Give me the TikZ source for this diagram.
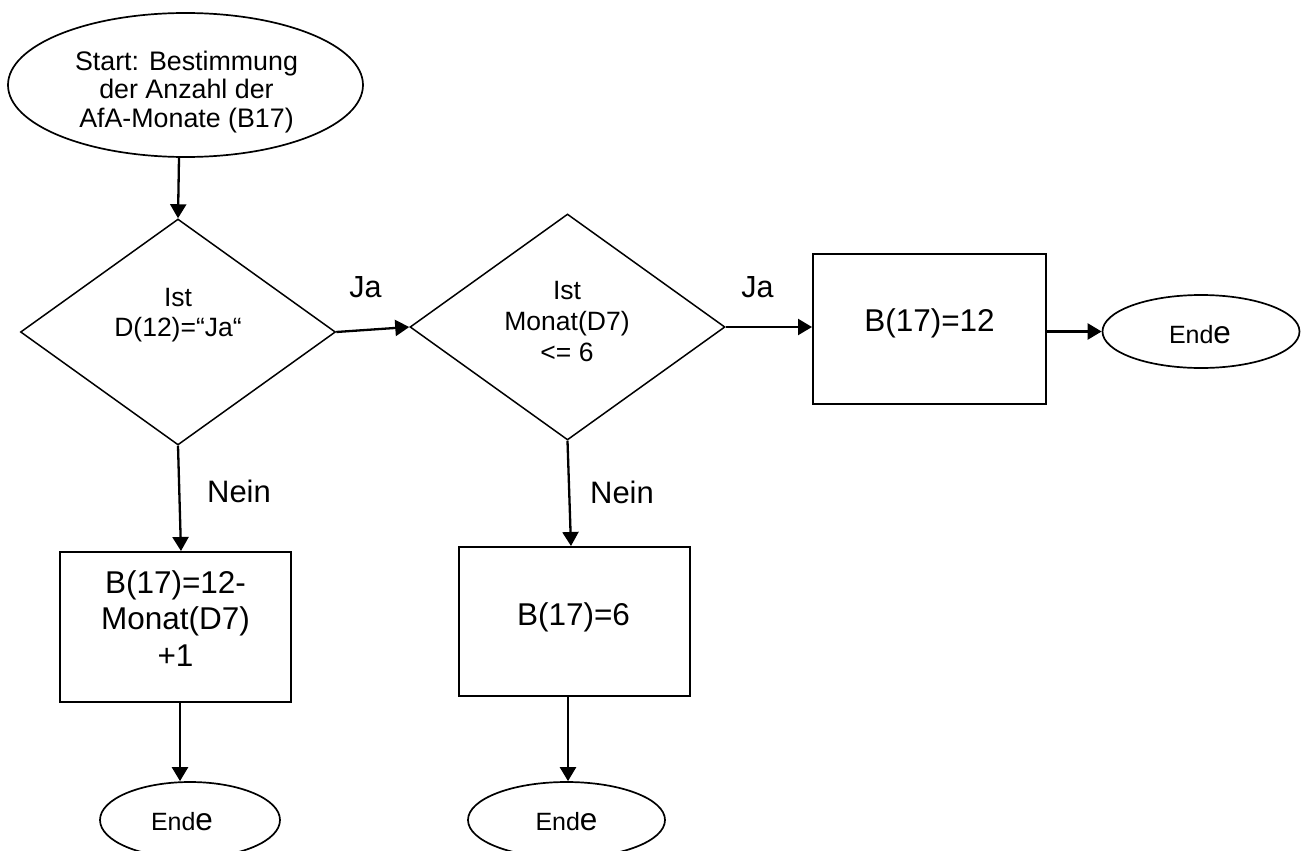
\documentclass[tikz,border=0pt]{standalone}
\usepackage{fontspec}
\setmainfont{Liberation Sans}
\usetikzlibrary{shapes.geometric,arrows.meta}
\newcommand\schlusstext{{\fontsize{25}{25}\selectfont End\fontsize{31.5}{31.5}\selectfont e}}
\tikzset{
  arr/.style={line width=2.3pt, -{Triangle[length=14pt,width=16pt]}},
  term/.style={ellipse, draw, line width=1.7pt, inner sep=0pt},
  decision/.style={diamond, draw, line width=1.5pt, inner sep=0pt},
  procbox/.style={rectangle, draw, line width=2pt, inner sep=0pt},
  txt/.style={inner sep=0pt, align=center},
  lbl/.style={inner sep=0pt, anchor=base},
  bigfont/.style={font=\fontsize{31.5}{36.7}\selectfont},
}
\begin{document}
\begin{tikzpicture}[x=1pt,y=-1pt]
\useasboundingbox (0,0) rectangle (1309,851);
\clip (0,0) rectangle (1309,851);

% shapes
\node[term, minimum width=355pt, minimum height=144pt] (start) at (185.5,85) {};
\node[decision, minimum width=315pt, minimum height=226pt] (d1) at (178,332) {};
\node[decision, minimum width=315pt, minimum height=226pt] (d2) at (567.5,327) {};
\node[procbox, minimum width=233pt, minimum height=150pt] (b3) at (929.5,329) {};
\node[term, minimum width=197pt, minimum height=73pt] (e3) at (1201,331.5) {};
\node[procbox, minimum width=231pt, minimum height=150pt] (b1) at (175.5,627) {};
\node[procbox, minimum width=231pt, minimum height=149pt] (b2) at (574.5,621.5) {};
\node[term, minimum width=180pt, minimum height=76pt] (e1) at (190,820) {};
\node[term, minimum width=197pt, minimum height=76pt] (e2) at (566.5,820) {};

% texts
\node[txt, font=\fontsize{26.8}{28.8}\selectfont] (starttext) at (186.5,92) {Start: Bestimmung\\der Anzahl der\\AfA-Monate (B17)};
\node[txt, font=\fontsize{26.5}{30.5}\selectfont] (d1text) at (178,315.3) {Ist\\D(12)=“Ja“};
\node[txt, font=\fontsize{26.5}{30.8}\selectfont] (d2text) at (567,321.5) {Ist\\Monat(D7)\\<= 6};
\node[lbl, bigfont] (b3text) at (929.5,331) {B(17)=12};
\node[lbl, bigfont] (b2text) at (573.5,625) {B(17)=6};
\node[txt, bigfont] (b1text) at (175.5,618.5) {B(17)=12-\\Monat(D7)\\+1};
\node[lbl] (e3text) at (1200,343) {\schlusstext};
\node[lbl] (e1text) at (182,830.7) {\schlusstext};
\node[lbl] (e2text) at (566.5,830.7) {\schlusstext};

% connector labels
\node[lbl, font=\fontsize{30.5}{34}\selectfont] (ja1) at (365.5,297.7) {Ja};
\node[lbl, font=\fontsize{30.5}{34}\selectfont] (ja2) at (757.5,297.7) {Ja};
\node[lbl, font=\fontsize{31}{34}\selectfont] (nein1) at (239,502.7) {Nein};
\node[lbl, font=\fontsize{31}{34}\selectfont] (nein2) at (622,503) {Nein};

% connectors
\draw[arr] ([xshift=-6.5pt]start.south) -- (d1.north);
\draw[arr] (d1.east) -- (d2.west);
\draw[arr] (d2.east) -- (d2.east -| b3.west);
\draw[arr] (b3.east |- e3.west) -- (e3.west);
\draw[arr] (d1.south) -- ([xshift=5.5pt]b1.north);
\draw[arr] (d2.south) -- ([xshift=-3.5pt]b2.north);
\draw[arr] ([xshift=4.5pt]b1.south) -- ([xshift=4.5pt]b1.south |- e1.north);
\draw[arr] ([xshift=-6.5pt]b2.south) -- ([xshift=-6.5pt]b2.south |- e2.north);
\end{tikzpicture}
\end{document}
